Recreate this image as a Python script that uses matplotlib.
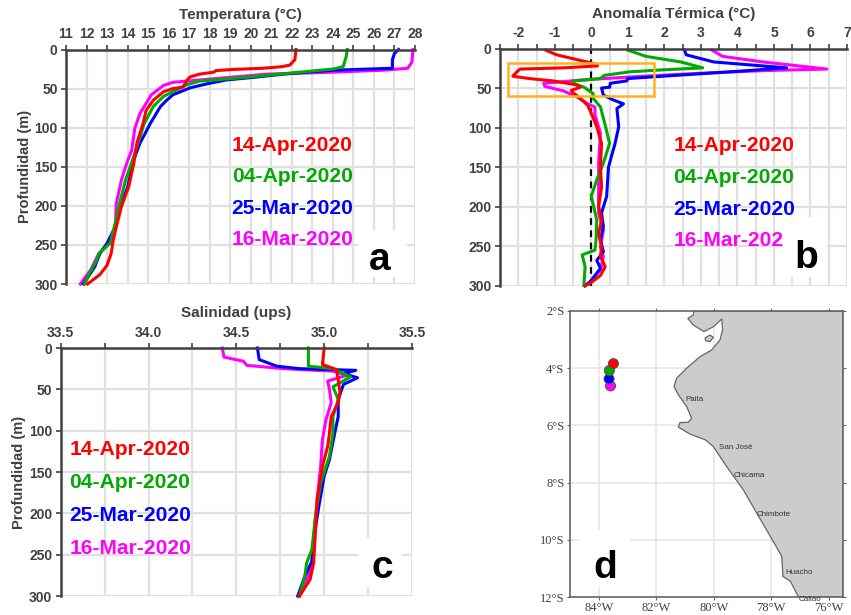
import matplotlib
matplotlib.use('Agg')
from matplotlib import pyplot as plt
from matplotlib.patches import Rectangle

plt.rcParams['font.family'] = ['Liberation Sans', 'DejaVu Sans']

W, H = 851, 615

dates = ['14-Apr-2020', '04-Apr-2020', '25-Mar-2020', '16-Mar-2020']

# Temperatura
temp_red_z = [0, 13, 20, 22, 24, 25.5, 27, 29, 31.5, 35, 39, 48, 50, 54, 65, 78, 95, 120, 146, 176, 201, 227, 244, 261, 276, 288, 300]
temp_red = [22.2, 22.15, 21.9, 21.5, 20.6, 19.15, 18.3, 18.2, 17.5, 17.05, 16.9, 16.7, 16.2, 15.75, 15.25, 14.9, 14.75, 14.45, 14.3, 14.05, 13.7, 13.45, 13.3, 13.2, 13, 12.65, 12.05]
temp_green_z = [0, 9, 22, 25, 29, 33, 37, 40.5, 45, 54, 60, 73, 95, 112, 137, 167, 193, 222, 248, 261, 269, 286, 300]
temp_green = [24.7, 24.65, 24.5, 24, 22.4, 20.8, 19.15, 17.5, 16.9, 16.2, 15.75, 15.25, 14.8, 14.6, 14.3, 13.9, 13.65, 13.4, 13.15, 12.6, 12.5, 12.15, 11.9]
temp_blue_z = [0, 5, 13, 24, 26.5, 31.5, 36, 39, 44, 49, 58, 65, 73, 95, 120, 141, 176, 197, 227, 248, 261, 278, 300]
temp_blue = [27.2, 27, 26.9, 26.9, 24, 21.6, 20, 18.8, 17.85, 17.05, 16.2, 15.9, 15.6, 15.1, 14.6, 14.3, 14, 13.7, 13.4, 13, 12.65, 12.4, 11.85]
temp_mag_z = [0, 16, 24, 26.5, 29, 31.5, 39, 42, 46, 58, 69, 82, 101, 129, 146, 167, 197, 227, 250, 261, 282, 300]
temp_mag = [27.9, 27.85, 27.65, 26.45, 24, 20.8, 17.5, 16.2, 15.75, 15.15, 14.9, 14.6, 14.35, 14.2, 13.95, 13.7, 13.45, 13.4, 13, 12.6, 12.2, 11.7]

# Anomalia termica
anom_red_z = [2, 8, 14, 20, 22, 24.5, 26, 30, 35, 38, 41, 46, 49, 53, 56, 63, 72, 82, 99, 120, 150, 175, 200, 217, 234, 251, 263, 276, 287, 297, 300]
anom_red = [-1.25, -0.95, -0.4, 0.15, 0.17, -0.77, -1.95, -2.05, -2.15, -1.7, -1.05, -0.4, -0.3, -0.55, -0.5, -0.3, -0.1, 0, 0.15, 0.28, 0.25, 0.28, 0.2, 0.28, 0.2, 0.28, 0.25, 0.38, 0.25, -0.03, -0.17]
anom_green_z = [2, 10, 17, 24.5, 27, 29.5, 34, 38, 41, 44, 49, 57, 63, 74, 95, 120, 145, 166, 187, 217, 242, 255, 261, 276, 297, 300]
anom_green = [1, 1.5, 2.45, 3.05, 1.95, 1.05, 0.35, 0.25, -0.5, -0.5, -0.2, 0.05, 0.05, 0.25, 0.37, 0.5, 0.33, 0.15, 0, 0.15, 0.13, 0.1, -0.25, -0.17, -0.2, -0.2]
anom_blue_z = [2, 8, 17, 24.5, 29.5, 35, 38, 41, 44, 49, 50, 59, 65, 70, 76, 99, 120, 150, 187, 208, 225, 242, 257, 268, 278, 295, 300]
anom_blue = [2.55, 2.6, 3.35, 5.35, 3.8, 1.97, 1, 0.97, 0.52, 0.5, 0.28, 0.33, 0.6, 0.88, 0.7, 0.75, 0.65, 0.47, 0.42, 0.28, 0.33, 0.25, 0.33, 0.15, 0.25, -0.03, -0.17]
anom_mag_z = [2, 10, 17, 26, 28, 31.5, 36, 40, 44, 48, 53.5, 61, 70, 74, 84, 107, 145, 175, 208, 230, 251, 263, 280, 295, 300]
anom_mag = [3.3, 3.6, 4.7, 6.45, 4.7, 2.9, 1.05, -0.3, -1.3, -1.27, -0.77, -0.4, -0.1, 0.1, 0.1, 0.25, 0.2, 0.2, 0.2, 0.33, 0.25, 0.33, 0.25, -0.03, -0.17]

# Salinidad
sal_red_z = [0, 20, 26, 38, 54, 66, 83, 103, 119, 143, 183, 224, 260, 280, 300]
sal_red = [35.0, 34.99, 35.07, 35.08, 35.09, 35.08, 35.04, 35.03, 35.02, 34.99, 34.96, 34.95, 34.94, 34.92, 34.86]
sal_green_z = [0, 22, 25, 35, 42, 47, 62, 83, 103, 131, 163, 204, 244, 260, 276, 300]
sal_green = [34.91, 34.91, 35.05, 35.15, 35.09, 35.05, 35.08, 35.05, 35.05, 35.03, 34.98, 34.95, 34.93, 34.9, 34.89, 34.86]
sal_blue_z = [0, 14, 22, 25, 27, 31, 36, 44, 50, 62, 83, 103, 135, 155, 191, 232, 258, 276, 300]
sal_blue = [34.62, 34.63, 34.73, 34.86, 35.18, 35.11, 35.19, 35.11, 35.1, 35.08, 35.08, 35.06, 35.03, 35.0, 34.97, 34.94, 34.93, 34.89, 34.85]
sal_mag_z = [0, 11, 16, 21, 25, 28, 33, 40, 50, 66, 87, 111, 143, 183, 232, 260, 276, 300]
sal_mag = [34.42, 34.43, 34.54, 34.56, 34.77, 35.05, 35.13, 35.02, 35.03, 35.04, 35.01, 34.99, 34.98, 34.96, 34.94, 34.93, 34.91, 34.85]

# Mapa
coast_lon = [-80.69, -80.71, -80.9, -80.71, -80.34, -80.01, -79.72, -79.69, -79.78, -80.07, -80.48, -80.94, -81.29, -81.38, -81.23, -80.94, -80.77, -80.88, -81.17, -81.23, -80.83, -80.3, -80.01, -79.55, -78.97, -78.5, -78.03, -77.63, -77.59, -77.33, -77.05, -75.5, -75.5]
coast_lat = [-2, -2.14, -2.26, -2.49, -2.72, -2.55, -2.28, -2.66, -3.01, -3.36, -3.6, -4, -4.35, -4.64, -4.93, -5.34, -5.75, -5.89, -5.9, -6.06, -6.3, -6.5, -6.74, -7.44, -8.25, -9.07, -9.88, -10.58, -11.28, -11.45, -12, -12, -2]
island_lon = [-80.3, -80.13, -80.01, -80.13, -80.28]
island_lat = [-2.95, -2.84, -2.92, -3.07, -3.04]
station_lon = [-83.59, -83.64, -83.63, -83.49]
station_lat = [-4.62, -4.37, -4.08, -3.84]
station_col = ['#ff00ff', '#0000ff', '#00aa00', '#ff0000']
city_names = ['Paita', 'San José', 'Chicama', 'Chimbote', 'Huacho', 'Callao']
city_lon = [-81, -79.8, -79.29, -78.5, -77.5, -77.06]
city_lat = [-5.1, -6.76, -7.75, -9.12, -11.14, -12.07]

RED, GREEN, BLUE, MAG = '#ff0000', '#00aa00', '#0000ff', '#ff00ff'
GRID = '#e0e0e0'
DARK = '#404040'


def place(left, top, right, bottom):
    # caja en pixeles de la imagen
    return fig.add_axes([left / W, 1 - bottom / H, (right - left) / W, (bottom - top) / H])


def style_profile(ax, title, xlim, xticks, xlabels):
    ax.set_xlim(xlim)
    ax.set_ylim(300, 0)
    ax.xaxis.tick_top()
    ax.set_xticks(xticks)
    ax.set_xticklabels(xlabels, fontsize=10, fontweight='bold', color=DARK)
    ax.set_yticks([0, 50, 100, 150, 200, 250, 300])
    ax.set_yticklabels(['0', '50', '100', '150', '200', '250', '300'], fontsize=10, fontweight='bold', color=DARK)
    ax.tick_params(axis='both', length=3.5, width=1.2, color=DARK, pad=2.5)
    ax.grid(True, color=GRID, lw=1.6)
    ax.set_axisbelow(True)
    for s in ['right', 'bottom']:
        ax.spines[s].set_visible(False)
    for s in ['top', 'left']:
        ax.spines[s].set_color(DARK)
        ax.spines[s].set_linewidth(1.8)
    ax.set_title(title, fontsize=11, fontweight='bold', color=DARK, pad=6)


def draw_lines(ax, series):
    for x, z, c in series:
        ax.plot(x, z, color=c, lw=2.2, solid_joinstyle='round', clip_on=False)


def draw_dates(ax, x0):
    for txt, yy, c in zip(dates, [123, 163, 203, 243], [RED, GREEN, BLUE, MAG]):
        ax.text(x0, yy, txt, color=c, fontsize=15.1, fontweight='bold', va='center', ha='left')


def letter(txt, x, y, box):
    # recuadro blanco y letra del panel, por encima de los ejes
    x0, y0, x1, y1 = box
    fig.add_artist(Rectangle((x0 / W, 1 - y1 / H), (x1 - x0) / W, (y1 - y0) / H, transform=fig.transFigure,
                             fc='white', ec='none', zorder=5))
    fig.text(x / W, 1 - y / H, txt, fontsize=28, fontweight='bold', color='black', ha='center', va='baseline', zorder=6)


fig = plt.figure(figsize=(W / 100, H / 100), dpi=100)

# a
ax = place(66, 49.5, 415, 284)
style_profile(ax, 'Temperatura (°C)', (11, 28), list(range(11, 29)), [str(v) for v in range(11, 29)])
draw_lines(ax, [(temp_mag, temp_mag_z, MAG), (temp_blue, temp_blue_z, BLUE), (temp_green, temp_green_z, GREEN), (temp_red, temp_red_z, RED)])
ax.set_ylabel('Profundidad (m)', fontsize=10.5, fontweight='bold', color=DARK, labelpad=2)
draw_dates(ax, 19.07)

# b
ax = place(500, 48.5, 847, 285.7)
ticks_b = [-2.5 + 0.5 * i for i in range(20)]
labels_b = [str(int(v)) if v == int(v) else '' for v in ticks_b]
style_profile(ax, 'Anomalía Térmica (°C)', (-2.5, 7), ticks_b, labels_b)
ax.axvline(0, color='black', lw=1.6, ls=(0, (3, 2.5)), zorder=1.5)
draw_lines(ax, [(anom_mag, anom_mag_z, MAG), (anom_blue, anom_blue_z, BLUE), (anom_green, anom_green_z, GREEN), (anom_red, anom_red_z, RED)])
ax.add_patch(Rectangle((-2.28, 18.5), 4.0, 42, fc='none', ec='#ffb31a', lw=1.8, zorder=4))
draw_dates(ax, 2.25)

# c
ax = place(60.7, 348, 412, 596)
ticks_c = [33.5 + 0.25 * i for i in range(9)]
labels_c = ['33.5', '', '34.0', '', '34.5', '', '35.0', '', '35.5']
style_profile(ax, 'Salinidad (ups)', (33.5, 35.5), ticks_c, labels_c)
draw_lines(ax, [(sal_mag, sal_mag_z, MAG), (sal_blue, sal_blue_z, BLUE), (sal_green, sal_green_z, GREEN), (sal_red, sal_red_z, RED)])
ax.set_ylabel('Profundidad (m)', fontsize=10.5, fontweight='bold', color=DARK, labelpad=2.5)
draw_dates(ax, 33.55)

# d
ax = place(570, 311, 843, 597)
ax.set_xlim(-85, -75.5)
ax.set_ylim(-12, -2)
ax.set_xticks([-84, -82, -80, -78, -76])
ax.set_xticklabels(['84°W', '82°W', '80°W', '78°W', '76°W'], family=['Liberation Serif'], fontsize=9, color=DARK)
ax.set_yticks([-2, -4, -6, -8, -10, -12])
ax.set_yticklabels(['2°S', '4°S', '6°S', '8°S', '10°S', '12°S'], family=['Liberation Serif'], fontsize=9, color=DARK)
ax.tick_params(axis='x', length=2, width=0.8, color='#666666', pad=1.5, top=True)
ax.tick_params(axis='y', length=2, width=0.8, color='#666666', pad=2, right=True)
ax.grid(True, color='#e6e6e6', lw=1.2)
ax.set_axisbelow(True)
for s in ax.spines.values():
    s.set_color('#666666')
    s.set_linewidth(1.2)
ax.fill(coast_lon, coast_lat, fc='#cccccc', ec='#666666', lw=0.9, zorder=2)
ax.fill(island_lon, island_lat, fc='#cccccc', ec='#666666', lw=0.9, zorder=2)
ax.scatter(station_lon, station_lat, c=station_col, s=52, edgecolors='#555555', linewidths=0.7, zorder=3)
for name, lon, lat in zip(city_names, city_lon, city_lat):
    ax.text(lon, lat, name, fontsize=5.8, color='#333333', ha='left', va='center', zorder=4, clip_on=False)

letter('a', 380, 270, (358, 230, 407, 277))
letter('b', 806, 268, (783, 217, 827, 277))
letter('c', 382, 578, (358, 538, 402, 587))
letter('d', 605, 578, (580, 530, 630, 587))

fig.savefig('out.png', dpi=100, facecolor='white')
